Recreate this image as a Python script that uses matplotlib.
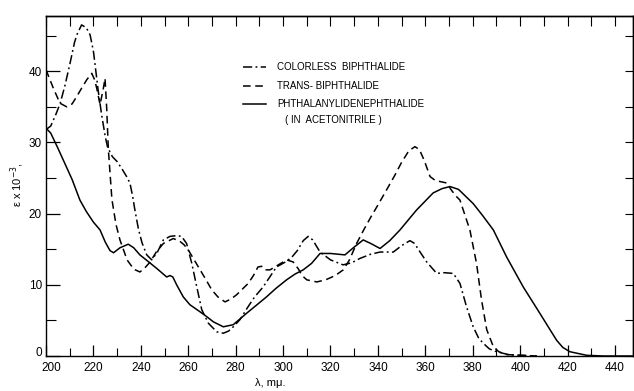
import matplotlib
matplotlib.use("Agg")
import matplotlib.pyplot as plt
import matplotlib.transforms as mtransforms
from matplotlib.ticker import MultipleLocator

plt.rcParams['font.family'] = ['Liberation Sans', 'DejaVu Sans']

# ---- data (wavelength in m\u03bc, epsilon x 10^-3) ----
wl_colorless = [200, 202, 204, 206, 208, 210, 212, 213, 215, 217, 218.6, 220, 220.7, 222, 223.5,
                225, 226, 228, 230, 232, 234, 235.4, 236.5, 237.5, 239, 240.5, 242.5, 244.6, 247,
                249.5, 252.3, 255, 257.2, 259.3, 261.5, 263.6, 265.7, 268.5, 272, 274.8, 277, 279,
                281.8, 285, 288, 291.6, 295, 297.2, 301.5, 304, 306, 308.5, 310.6, 312.5, 315.6,
                320, 325.3, 329, 332.4, 337, 340.9, 346.5, 350, 353.5, 355.5, 357, 360.6, 364.8,
                368, 371.8, 374.6, 377.4, 380.2, 382.5, 384.4, 387, 390.1, 395, 400, 407]
eps_colorless = [31.8, 32.3, 33.8, 35.5, 38.0, 40.9, 44.0, 45.1, 46.5, 46.1, 45.1, 42.8, 40.9, 37.3, 33.8,
                 30.8, 29.3, 28.0, 27.3, 26.3, 25.2, 24.3, 22.5, 20.5, 17.8, 15.9, 14.2, 13.5, 14.6,
                 16.3, 16.8, 16.9, 16.8, 15.8, 13.0, 9.7, 6.5, 4.6, 3.4, 3.2, 3.5, 4.1,
                 5.1, 6.8, 8.3, 9.7, 11.4, 12.5, 13.3, 14.0, 14.8, 16.2, 16.8, 16.3, 14.6,
                 13.5, 12.8, 13.1, 13.7, 14.3, 14.6, 14.6, 15.5, 16.2, 15.8, 15.0, 13.2, 11.6,
                 11.7, 11.6, 10.2, 6.9, 4.1, 2.5, 1.8, 1.0, 0.6, 0.2, 0.1, 0.0]

wl_trans = [200, 203.1, 205.9, 208.7, 211, 212.9, 215, 217.2, 219.3, 220.5, 221.4, 222.8, 224.2,
            224.9, 225.6, 226.3, 227.8, 229.5, 231.2, 234.2, 237, 239.6, 241.5, 243.9, 246.5,
            249.5, 253.7, 256.5, 258.3, 260, 262.5, 265, 267.5, 269.9, 272.5, 275.5, 278, 280.4,
            285.3, 287.5, 289.4, 291, 292.5, 294.5, 298, 301.5, 304.3, 306.5, 308, 310, 314.2,
            318, 322, 325.4, 328, 331, 334, 337, 340, 343.6, 347, 350, 353, 355.6, 357.5, 359.5,
            362, 364, 366.2, 369, 371, 372.8, 374.6, 376.5, 378.8, 381.6, 383.7, 385.9, 388.7,
            391, 394.3, 400, 407]
eps_trans = [40.2, 37.6, 35.5, 35.0, 35.4, 36.4, 37.6, 38.8, 39.7, 38.8, 37.6, 35.3, 37.6,
             39.0, 34.8, 29.0, 22.0, 18.5, 16.3, 13.5, 12.2, 11.8, 12.3, 13.2, 14.6,
             15.8, 16.5, 16.1, 15.6, 14.9, 13.5, 12.1, 10.7, 9.3, 8.3, 7.6, 8.0, 8.6,
             10.2, 11.3, 12.5, 12.6, 12.1, 12.1, 12.8, 13.5, 13.2, 12.2, 11.3, 10.7, 10.4,
             10.7, 11.3, 12.1, 13.5, 15.8, 17.7, 19.5, 21.2, 23.3, 25.3, 27.2, 28.8, 29.4, 29.0, 27.5,
             25.2, 24.7, 24.5, 24.3, 23.3, 22.5, 21.9, 20.0, 17.7, 13.0, 7.9, 3.7, 1.3,
             0.6, 0.2, 0.1, 0.0]

wl_phthal = [200, 202, 205, 208, 211, 214.3, 217, 220, 222.8, 225, 227, 228.5, 231.2, 234.7, 237,
             239.6, 243, 246.7, 250.9, 252.3, 253.5, 255.1, 257.9, 260.7, 265, 267.5, 270.6,
             274.8, 279, 284.6, 289, 293, 297, 301.5, 305, 308.5, 312, 315.6, 320, 326.1, 330,
             333.8, 337, 340.9, 345, 349.3, 356.3, 363.3, 367, 370.4, 374, 380.2, 384, 388.7,
             394.3, 401.3, 408.3, 415.4, 418, 421, 428, 435, 448]
eps_phthal = [32.0, 31.3, 29.2, 27.0, 24.8, 21.9, 20.3, 18.8, 17.7, 16.0, 14.8, 14.5, 15.2, 15.7, 15.2,
              14.2, 13.3, 12.3, 11.1, 11.3, 11.1, 10.0, 8.3, 7.2, 6.2, 5.6, 4.8,
              4.1, 4.4, 6.0, 7.2, 8.3, 9.5, 10.7, 11.5, 12.1, 13.0, 14.4, 14.4, 14.2, 15.3,
              16.3, 15.8, 15.1, 16.2, 17.7, 20.5, 22.9, 23.5, 23.8, 23.4, 21.4, 19.8, 17.7,
              13.9, 9.7, 6.0, 2.2, 1.2, 0.6, 0.1, 0.0, 0.0]

x_ticks = [200, 220, 240, 260, 280, 300, 320, 340, 360, 380, 400, 420, 440]
y_ticks = [0, 10, 20, 30, 40]
legend_labels = ["COLORLESS  BIPHTHALIDE", "TRANS- BIPHTHALIDE", "PHTHALANYLIDENEPHTHALIDE"]
legend_note = "( IN  ACETONITRILE )"

W, H = 634, 391
fig = plt.figure(figsize=(W / 100, H / 100), dpi=100)
ax = fig.add_axes([46 / W, 35 / H, (633 - 46) / W, (356 - 16) / H])

lw = 1.1
ls_dd = (0, (6, 2.2, 1.2, 2.2))
ls_d = (0, (5, 3))
ax.plot(wl_colorless, eps_colorless, color='black', lw=lw, ls=ls_dd)
ax.plot(wl_trans, eps_trans, color='black', lw=lw, ls=ls_d)
ax.plot(wl_phthal, eps_phthal, color='black', lw=lw, ls='-')

ax.set_xlim(200, 447.6)
ax.set_ylim(0, 47.75)

ax.set_xticks(x_ticks)
ax.set_xticklabels([str(v) for v in x_ticks])
ax.xaxis.set_minor_locator(MultipleLocator(10))
ax.set_yticks(y_ticks)
ax.set_yticklabels([str(v) for v in y_ticks])
ax.yaxis.set_minor_locator(MultipleLocator(5))

ax.tick_params(axis='x', which='major', direction='in', length=8, width=0.9, top=False,
               labelsize=8.5, pad=4)
ax.tick_params(axis='x', which='minor', direction='in', length=6, width=0.8, top=False)
ax.tick_params(axis='y', which='major', direction='in', length=10, width=0.9, right=False,
               labelsize=8.5, pad=3)
ax.tick_params(axis='y', which='minor', direction='in', length=7, width=0.8, right=False)

# nudge the corner labels apart as in the reference
fig.canvas.draw()
xl0 = ax.get_xticklabels()[0]
xl0.set_transform(xl0.get_transform() + mtransforms.ScaledTranslation(5 / 100, 0, fig.dpi_scale_trans))
yl0 = ax.get_yticklabels()[0]
yl0.set_transform(yl0.get_transform() + mtransforms.ScaledTranslation(0, 4 / 100, fig.dpi_scale_trans))

# top and right tick marks
sec_top = ax.secondary_xaxis('top')
sec_top.set_xticks(list(range(200, 448, 10)))
sec_top.tick_params(direction='in', length=7, width=0.8, labeltop=False)
sec_top.xaxis.set_minor_locator(plt.NullLocator())
sec_right = ax.secondary_yaxis('right')
sec_right.set_yticks(list(range(0, 48, 5)))
sec_right.tick_params(direction='in', length=6, width=0.8, labelright=False)
sec_right.yaxis.set_minor_locator(plt.NullLocator())

for s in ax.spines.values():
    s.set_linewidth(1.0)
for s in list(sec_top.spines.values()) + list(sec_right.spines.values()):
    s.set_linewidth(1.0)

# legend (drawn in axes coordinates)
def ax_x(px):
    return (px - 46) / (633 - 46)

def ax_y(py):
    return (356 - py) / (356 - 16)

styles = [ls_dd, ls_d, '-']
rows = [67, 86, 104]
for lab, st, py in zip(legend_labels, styles, rows):
    ax.plot([ax_x(243), ax_x(266)], [ax_y(py), ax_y(py)], transform=ax.transAxes,
            color='black', lw=lw, ls=st)
    ax.text(ax_x(277), ax_y(py), lab, transform=ax.transAxes, fontsize=7,
            va='center', ha='left')
ax.text(ax_x(285), ax_y(120), legend_note, transform=ax.transAxes, fontsize=7,
        va='center', ha='left')

fig.text(270 / W, 1 - 383 / H, "\u03bb, m\u03bc.", fontsize=8, ha='center', va='center')
fig.text(17 / W, 1 - 185 / H, "\u03b5 x 10$^{-3}$,", fontsize=8, rotation=90,
         ha='center', va='center')

fig.savefig("out.png", dpi=100)
